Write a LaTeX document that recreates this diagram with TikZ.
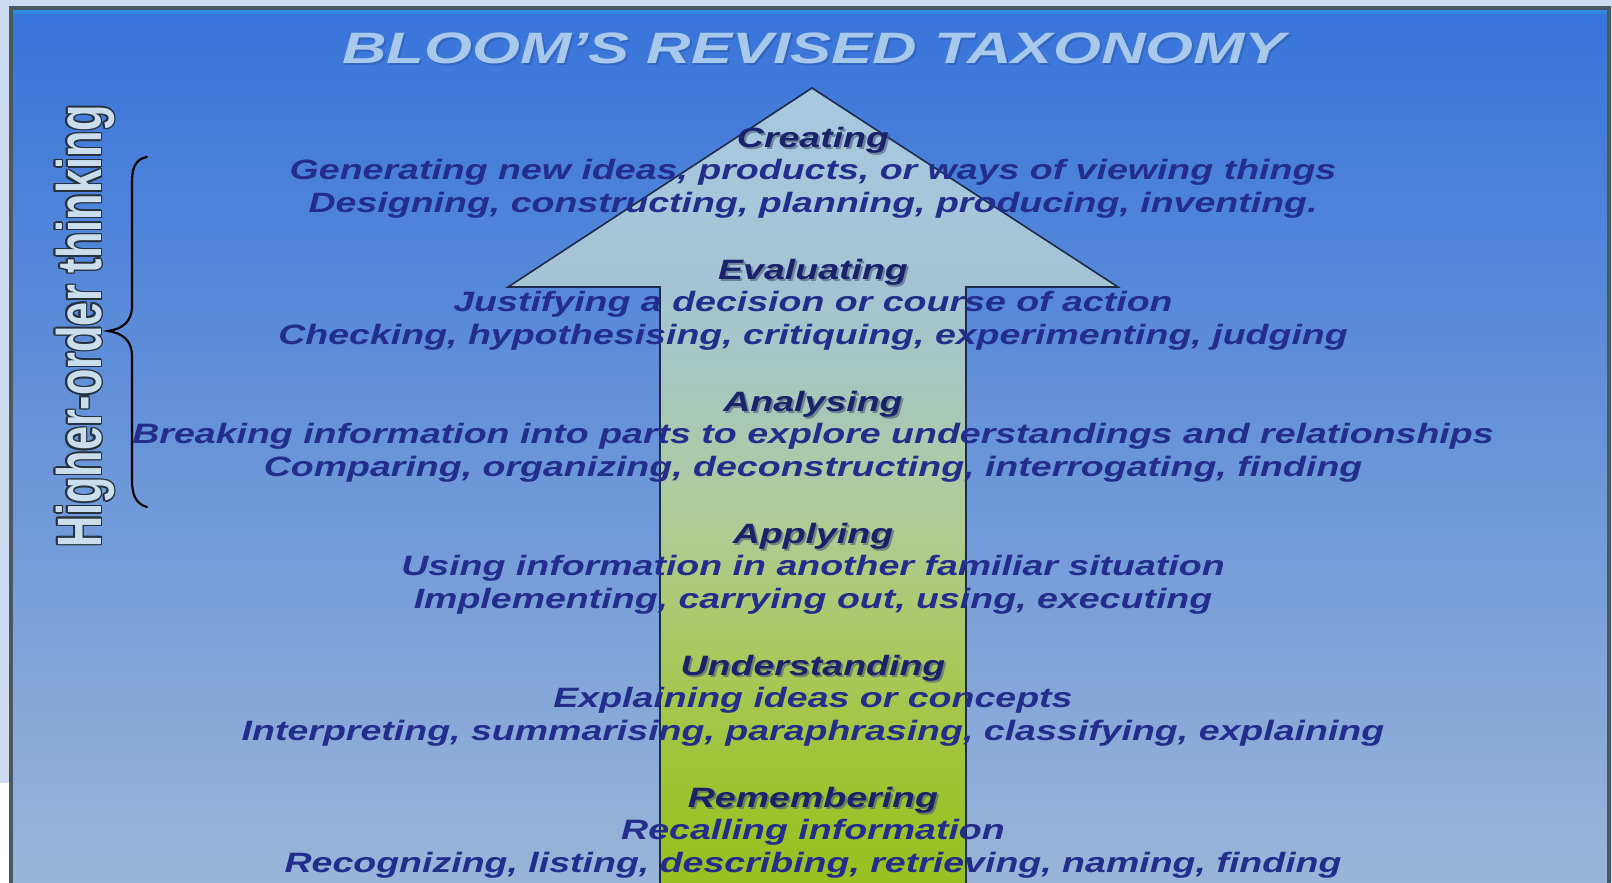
\documentclass[tikz,border=0pt]{standalone}
\usepackage{fontspec}
\setmainfont{Liberation Sans}
\usepackage{graphicx}
\definecolor{outerbg}{HTML}{CCDBF0}
\definecolor{paneltop}{HTML}{3774DA}
\definecolor{panelmid}{HTML}{5C93D8}
\definecolor{panelbot}{HTML}{9CB6D8}
\definecolor{panelframe}{HTML}{4A5862}
\definecolor{ag0}{HTML}{98C01E}
\definecolor{ag1}{HTML}{9DC430}
\definecolor{ag2}{HTML}{AAC860}
\definecolor{ag3}{HTML}{B0CC94}
\definecolor{ag4}{HTML}{A8C8B8}
\definecolor{ag5}{HTML}{A4C4D4}
\definecolor{ag6}{HTML}{A8C8E0}
\definecolor{arrowline}{HTML}{1E2A4A}
\definecolor{headcol}{HTML}{1A226A}
\definecolor{headshadow}{HTML}{4A5878}
\definecolor{desccol}{HTML}{232D8C}
\definecolor{titlecol}{HTML}{A8C8EC}
\definecolor{titleshadow}{HTML}{2A56A8}
\definecolor{vtfill}{HTML}{CADEEE}
\definecolor{vtline}{HTML}{26323E}
\pgfdeclareverticalshading{arrowshade}{100bp}{color(0bp)=(ag0); color(25bp)=(ag0); color(31.5bp)=(ag1); color(40bp)=(ag2); color(47.5bp)=(ag3); color(55bp)=(ag4); color(62.5bp)=(ag5); color(75bp)=(ag6); color(100bp)=(ag6)}
\newcommand\stretchtxt[1]{\scalebox{1.34}[1]{#1}}
\newcommand\lvl[5]{%
  \node[headsh] (#1s) at (815,#2+2) {\stretchtxt{#3}};
  \node[head] (#1) at (813,#2) {\stretchtxt{#3}};
  \node[desc] (#1a) at (813,#2+32) {\stretchtxt{#4}};
  \node[desc] (#1b) at (813,#2+65) {\stretchtxt{#5}};}
\begin{document}
\begin{tikzpicture}[x=0.75pt,y=-0.75pt,
  txtbase/.style={anchor=base, inner sep=0pt, font=\fontsize{21}{25}\selectfont\bfseries\itshape},
  head/.style={txtbase, text=headcol},
  headsh/.style={txtbase, text=headshadow, opacity=0.6},
  desc/.style={txtbase, text=desccol},
  titletxt/.style={anchor=base, inner sep=0pt, font=\fontsize{33}{38}\selectfont\bfseries\itshape},
  vtxt/.style={anchor=base, inner sep=0pt, rotate=90, font=\fontsize{47}{50}\selectfont\bfseries},
  arrowbody/.style={draw=arrowline, line width=1.2pt, shading=arrowshade},
  bracestyle/.style={draw=black, line width=1.6pt, line cap=round}]
\useasboundingbox (0,0) rectangle (1612,882);
\fill[outerbg] (0,0) rectangle (1612,882);
\fill[white] (0,783) rectangle (9,882);
\begin{scope}
\clip (0,0) rectangle (1612,882);
\draw[panelframe, line width=3.5pt, top color=paneltop, middle color=panelmid, bottom color=panelbot] (11,8) rectangle (1609,900);
\fill[paneltop!85!cyan] (13,10) rectangle (1607,14);
\draw[arrowbody] (812,88) -- (1118,287) -- (966,287) -- (966,890) -- (660,890) -- (660,287) -- (508,287) -- cycle;
\end{scope}
% title
\node[titletxt, text=titleshadow, opacity=0.5] (titles) at (816,65) {\scalebox{1.4}[1]{BLOOM’S REVISED TAXONOMY}};
\node[titletxt, text=titlecol] (title) at (814,63) {\scalebox{1.4}[1]{BLOOM’S REVISED TAXONOMY}};
% brace
\draw[bracestyle] (147,157) .. controls (136,159) and (132,167) .. (132,182) -- (132,306) .. controls (132,322) and (122,329) .. (108,331) .. controls (122,333) and (132,340) .. (132,356) -- (132,480) .. controls (132,495) and (136,504) .. (147,507);
% vertical label with outline
\foreach \dx/\dy [count=\i] in {-1.5/0,1.5/0,0/-1.5,0/1.5,-1.1/-1.1,1.1/1.1,-1.1/1.1,1.1/-1.1}
  \node[vtxt, text=vtline] (vto\i) at (101+\dx,326+\dy) {\scalebox{0.69}[1]{Higher-order thinking}};
\node[vtxt, text=vtfill] (vt) at (101,326) {\scalebox{0.69}[1]{Higher-order thinking}};
% levels
\lvl{cre}{147}{Creating}{Generating new ideas, products, or ways of viewing things}{Designing, constructing, planning, producing, inventing.}
\lvl{eva}{279}{Evaluating}{Justifying a decision or course of action}{Checking, hypothesising, critiquing, experimenting, judging}
\lvl{ana}{411}{Analysing}{Breaking information into parts to explore understandings and relationships}{Comparing, organizing, deconstructing, interrogating, finding}
\lvl{app}{543}{Applying}{Using information in another familiar situation}{Implementing, carrying out, using, executing}
\lvl{und}{675}{Understanding}{Explaining ideas or concepts}{Interpreting, summarising, paraphrasing, classifying, explaining}
\lvl{rem}{807}{Remembering}{Recalling information}{Recognizing, listing, describing, retrieving, naming, finding}
\end{tikzpicture}
\end{document}
